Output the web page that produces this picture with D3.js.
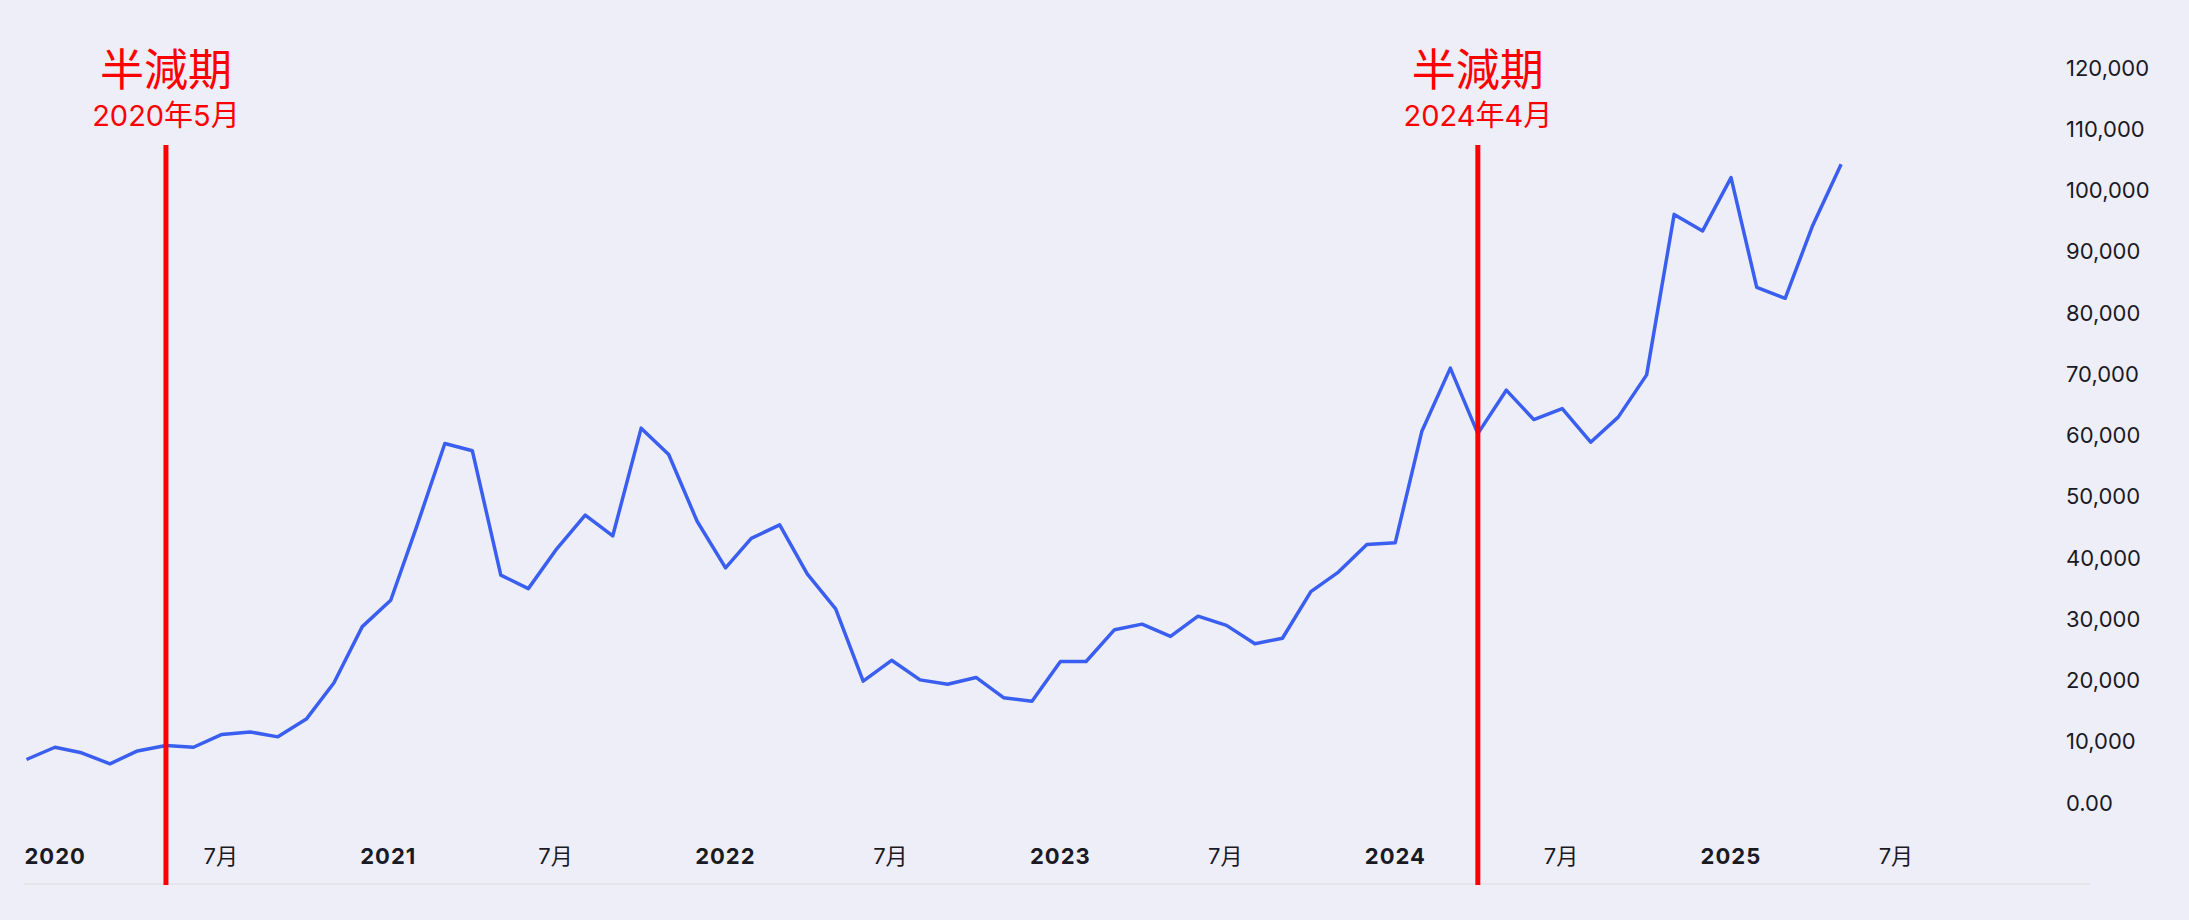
<!DOCTYPE html>
<html>
<head>
<meta charset="utf-8">
<script src="https://cdn.jsdelivr.net/npm/d3@7"></script>
<style>
  body { margin: 0; background: #eeeef8; }
  text { font-family: Inter, "Noto Sans CJK JP", sans-serif; }
</style>
</head>
<body>
<svg id="chart" width="2189" height="920"></svg>
<script>
// monthly close, Jan 2020 .. Jun 2025 (USD)
const startMonth = "2020-01";
const prices = [
  7100, 9100, 8200, 6400, 8500, 9400, 9100, 11200, 11600, 10800, 13700, 19600,
  28800, 33100, 45000, 58700, 57500, 37200, 35000, 41500, 47000, 43600, 61200, 56900,
  46000, 38400, 43200, 45400, 37400, 31700, 19900, 23300, 20100, 19400, 20500, 17200,
  16600, 23100, 23100, 28300, 29200, 27200, 30500, 29000, 26000, 26900, 34500, 37700,
  42200, 42500, 60700, 71000, 60300, 67400, 62600, 64400, 58900, 63000, 69900, 96100,
  93400, 102100, 84200, 82400, 94300, 104300
];
const yTicks = [0, 10000, 20000, 30000, 40000, 50000, 60000, 70000, 80000, 90000, 100000, 110000, 120000];
const halvings = [
  { date: "2020-05", title: "半減期", label: "2020年5月" },
  { date: "2024-04", title: "半減期", label: "2024年4月" }
];
const xTickYears = [2020, 2021, 2022, 2023, 2024, 2025];

const svg = d3.select("#chart");
const parse = d3.utcParse("%Y-%m");
const t0 = parse(startMonth);
const data = prices.map((v, i) => ({ date: d3.utcMonth.offset(t0, i), value: v }));

const x = d3.scaleUtc()
  .domain([t0, d3.utcMonth.offset(t0, 72)])
  .range([26.5, 26.5 + 72 * 27.93]);
const y = d3.scaleLinear().domain([0, 120000]).range([803, 68]);

// bottom baseline
svg.append("line")
  .attr("x1", 24).attr("x2", 2090).attr("y1", 884).attr("y2", 884)
  .attr("stroke", "#e2e2ea").attr("stroke-width", 1.5);

// y axis labels on the right
svg.append("g").selectAll("text")
  .data(yTicks).join("text")
  .attr("x", 2066).attr("y", d => y(d)).attr("dy", "0.35em")
  .attr("font-size", 22).attr("fill", "#1a1a24")
  .text(d => d === 0 ? "0.00" : d3.format(",")(d));

// x axis labels
const xTicks = [];
xTickYears.forEach(yr => {
  xTicks.push({ date: new Date(Date.UTC(yr, 0, 1)), year: true });
  xTicks.push({ date: new Date(Date.UTC(yr, 6, 1)), year: false });
});
svg.append("g").selectAll("text")
  .data(xTicks).join("text")
  .attr("x", d => x(d.date) + (d.year ? -2 : 10))
  .attr("y", 864)
  .attr("font-size", 22)
  .attr("font-weight", d => d.year ? 700 : 400)
  .attr("letter-spacing", d => d.year ? 1 : 0)
  .attr("fill", "#1a1a24")
  .text(d => d.year ? d3.utcFormat("%Y")(d.date) : "7月");

// price line
svg.append("path")
  .datum(data)
  .attr("fill", "none")
  .attr("stroke", "#3a5ff0")
  .attr("stroke-width", 3.5)
  .attr("stroke-linejoin", "round")
  .attr("d", d3.line().x(d => x(d.date)).y(d => y(d.value)));

// halving markers (drawn at the month's end)
const h = svg.append("g").selectAll("g").data(halvings).join("g")
  .attr("transform", d => `translate(${x(d3.utcMonth.offset(parse(d.date), 1))},0)`);
h.append("line")
  .attr("y1", 145).attr("y2", 885)
  .attr("stroke", "#ff0000").attr("stroke-width", 5);
h.append("text")
  .attr("text-anchor", "middle").attr("y", 86)
  .attr("font-size", 44).attr("fill", "#ff0000")
  .text(d => d.title);
h.append("text")
  .attr("text-anchor", "middle").attr("y", 126)
  .attr("font-size", 29).attr("fill", "#ff0000")
  .text(d => d.label);
</script>
</body>
</html>
